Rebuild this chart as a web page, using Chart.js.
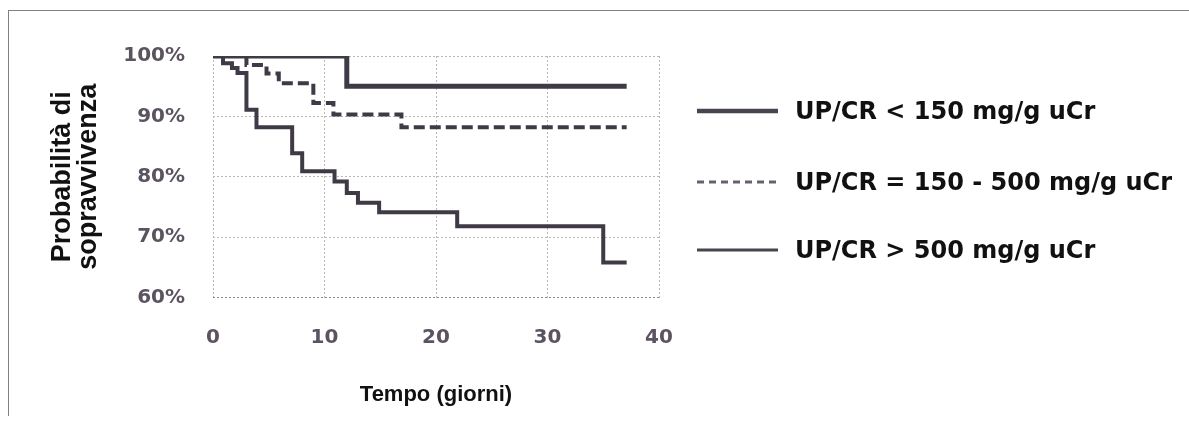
<!DOCTYPE html>
<html>
<head>
<meta charset="utf-8">
<script src="https://cdn.jsdelivr.net/npm/chart.js@4.4.0/dist/chart.umd.min.js"></script>
<style>
  html, body { margin: 0; padding: 0; background: #fff; }
  #wrap { position: relative; width: 1189px; height: 423px; }
  #frame {
    position: absolute; left: 8px; top: 10px; width: 1181px; height: 405px;
    border-left: 1px solid #808080; border-top: 1px solid #808080;
    pointer-events: none;
  }
</style>
</head>
<body>
<div id="wrap">
  <canvas id="chart"></canvas>
  <div id="frame"></div>
</div>
<script>
// survival curves (days, % surviving)
const lowLabel = "UP/CR < 150 mg/g uCr";
const lowDays = [0, 12, 37.1];
const lowSurv = [100, 95, 95];

const midLabel = "UP/CR = 150 - 500 mg/g uCr";
const midDays = [0, 3, 4.8, 5.9, 9, 10.8, 16.9, 37.1];
const midSurv = [100, 98.5, 97.1, 95.5, 92.2, 90.3, 88.2, 88.2];

const highLabel = "UP/CR > 500 mg/g uCr";
const highDays = [0, 0.9, 1.7, 2.2, 3, 3.9, 7.1, 8, 10.9, 12, 13, 14.9, 21.9, 35, 37.1];
const highSurv = [100, 98.8, 98.0, 97.2, 91.1, 88.2, 83.9, 80.9, 79.2, 77.3, 75.7, 74.1, 71.8, 65.8, 65.8];

const yTicks = [60, 70, 80, 90, 100];
const xTicks = [0, 10, 20, 30, 40];

const toPoints = (xs, ys) => xs.map((x, i) => ({ x: x, y: ys[i] }));

const lineColor = "#3f3a45";
const tickColor = "#5b5360";

// legend drawn at the right of the plot, like the original figure
const sideLegend = {
  id: "sideLegend",
  afterDraw(chart) {
    const ctx = chart.ctx;
    const rows = [
      { y: 113, width: 4.5, dash: [], color: "#4a4450" },
      { y: 184, width: 3, dash: [7, 5], color: "#6a6070" },
      { y: 252, width: 3, dash: [], color: "#4a4450" },
    ];
    chart.data.datasets.forEach((ds, i) => {
      const r = rows[i];
      ctx.save();
      ctx.strokeStyle = r.color;
      ctx.lineWidth = r.width;
      ctx.setLineDash(r.dash);
      ctx.beginPath();
      ctx.moveTo(697, r.y - 2);
      ctx.lineTo(778, r.y - 2);
      ctx.stroke();
      ctx.setLineDash([]);
      ctx.fillStyle = "#111";
      ctx.font = "bold 24px 'DejaVu Sans'";
      ctx.textBaseline = "middle";
      ctx.fillText(ds.label, 795, r.y);
      ctx.restore();
    });
  },
};

const data = {
  datasets: [
    {
      label: lowLabel,
      data: toPoints(lowDays, lowSurv),
      borderColor: lineColor,
      borderWidth: 5,
    },
    {
      label: midLabel,
      data: toPoints(midDays, midSurv),
      borderColor: lineColor,
      borderWidth: 4,
      borderDash: [11, 5],
    },
    {
      label: highLabel,
      data: toPoints(highDays, highSurv),
      borderColor: lineColor,
      borderWidth: 4,
    },
  ],
};

const config = {
  type: "line",
  data: data,
  options: {
    responsive: true,
    maintainAspectRatio: false,
    animation: false,
    stepped: true,
    pointRadius: 0,
    borderJoinStyle: "miter",
    layout: { padding: { left: 0, top: 56, right: 530, bottom: 0 } },
    plugins: {
      legend: { display: false },
      tooltip: { enabled: false },
    },
    scales: {
      x: {
        type: "linear",
        min: 0,
        max: 40,
        afterBuildTicks: (scale) => {
          scale.ticks = xTicks.map((v) => ({ value: v }));
        },
        afterFit: (scale) => {
          scale.height = 125.5;
        },
        grid: { color: "#b8b8b8", lineWidth: 1, drawTicks: false },
        border: { display: false, dash: [2, 2] },
        ticks: {
          padding: 28,
          color: tickColor,
          font: { family: "'DejaVu Sans'", weight: "bold", size: 20 },
        },
        title: {
          display: true,
          text: "Tempo (giorni)",
          color: "#111",
          padding: { top: 0, bottom: 15 },
          font: { family: "'Liberation Sans'", weight: "bold", size: 22 },
        },
      },
      y: {
        min: 60,
        max: 100,
        afterBuildTicks: (scale) => {
          scale.ticks = yTicks.map((v) => ({ value: v }));
        },
        afterFit: (scale) => {
          scale.width = 213;
        },
        grid: {
          color: (c) => (c.tick && c.tick.value === 60 ? "#8a8a8a" : "#b8b8b8"),
          lineWidth: 1,
          drawTicks: false,
        },
        border: { display: false, dash: [2, 2] },
        ticks: {
          padding: 28,
          color: tickColor,
          font: { family: "'DejaVu Sans'", weight: "bold", size: 20 },
          callback: (value) => `${value}%`,
        },
        title: {
          display: true,
          text: ["Probabilità di", "sopravvivenza"],
          color: "#111",
          padding: { top: 50, bottom: 0 },
          font: { family: "'Liberation Sans'", weight: "bold", size: 27, lineHeight: 0.94 },
        },
      },
    },
  },
  plugins: [sideLegend],
};

const myChart = new Chart(document.querySelector("#chart"), config);
</script>
</body>
</html>
